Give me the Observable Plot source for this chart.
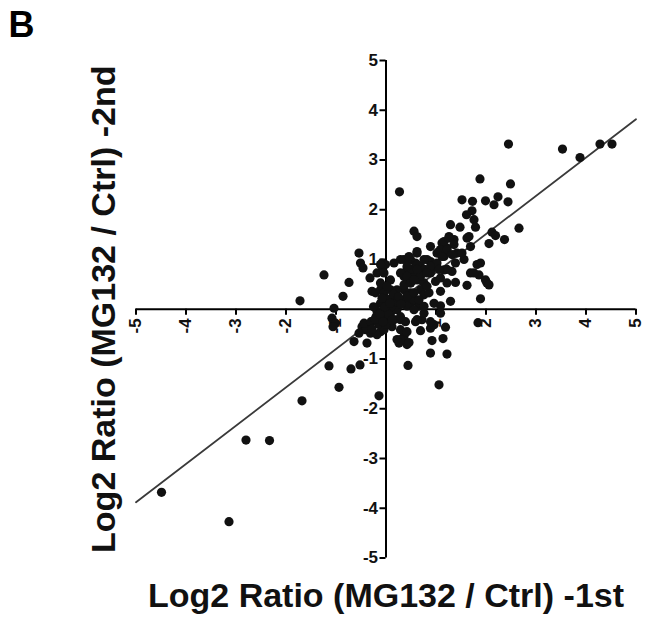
<!DOCTYPE html>
<html>
<head>
<meta charset="utf-8">
<script src="https://cdn.jsdelivr.net/npm/d3@7"></script>
<script src="https://cdn.jsdelivr.net/npm/@observablehq/plot@0.6"></script>
<style>
  html, body { margin: 0; padding: 0; background: #fff; }
  #chart svg { display: block; font-family: "Liberation Sans", Arial, sans-serif; }
</style>
</head>
<body>
<div id="chart"></div>
<script>
// Log2 ratio, 1st experiment (x) and 2nd experiment (y)
const ratio1st = [
  -4.49,-3.14,-2.80,-2.33,-1.68,-1.14,-0.94,-0.70,-0.52,-0.14,
  2.45,3.53,3.88,4.28,4.52,0.27,1.88,2.49,1.52,1.73,1.99,2.24,2.16,2.44,1.72,1.61,1.76,1.79,2.66,1.29,
  1.48,2.12,2.19,2.37,2.06,0.56,0.62,1.26,1.12,1.66,1.69,1.89,1.56,1.69,1.86,2.02,1.62,1.89,1.39,1.09,
  1.29,0.99,0.62,1.16,0.96,1.32,1.42,1.06,1.22,1.36,
  1.16,1.26,1.36,1.09,1.22,1.32,1.62,1.99,2.06,1.16,1.09,0.89,
  0.36,0.49,0.62,0.59,0.69,0.76,0.42,0.56,0.82,0.62,0.76,0.42,0.36,0.69,0.49,0.76,0.86,0.39,0.59,0.89,
  -0.54,-0.51,-0.46,-1.24,-0.74,-0.86,-0.32,-0.08,-0.01,0.46,-0.28,-0.21,-0.11,-1.04,-1.08,-1.01,
  -0.48,-0.41,-0.64,-0.54,-0.31,-0.11,-0.38,0.22,0.36,0.42,0.29,0.12,0.02,
  0.49,0.66,1.09,1.84,0.29,0.39,0.59,0.72,0.89,0.96,1.19,0.42,0.69,0.29,0.46,0.92,1.14,0.89,1.22,0.44,1.06,
  -1.72,-0.39,0.26,
  0.49,0.62,0.69,0.82,0.92,1.02,1.22,1.39,1.52,1.76,1.82,
  -0.11,-0.04,0.09,-0.11,0.02,0.16,-0.18,-0.04,0.09,0.22,0.16,0.29,-0.11,0.42,0.56,0.82,0.36,0.49,0.56,0.76,0.96,1.22,0.62,0.89,1.09,
  -1.06,-0.44,-0.18,-0.04,-0.18,-0.08,
  -0.11,0.16,0.29,-0.04,0.09,0.29,0.42,0.02,0.22,0.36,0.49,-0.04,0.16,0.42,0.56,0.66,0.76,-0.11,
  0.89,1.02,1.12,0.76,0.89,0.82,1.06,0.62,0.56,0.42,
  -0.30,-0.20,-0.10,0.00,0.10,0.20,-0.05,0.05,0.15,-0.15,0.05,0.25,0.30,-0.25,0.00,0.12,-0.08,
  -0.22,-0.12,-0.02,0.08,-0.28,-0.06
];
const ratio2nd = [
  -3.68,-4.27,-2.63,-2.64,-1.84,-1.14,-1.57,-1.20,-1.12,-1.74,
  3.32,3.22,3.05,3.32,3.32,2.36,2.62,2.52,2.20,2.17,2.18,2.26,2.10,2.16,1.98,1.90,1.80,1.65,1.63,1.70,
  1.65,1.55,1.48,1.40,1.32,1.57,1.46,1.46,1.33,1.46,1.26,0.93,1.00,0.73,0.69,0.53,0.48,0.21,0.54,0.36,
  0.16,0.56,1.13,1.06,0.86,0.76,1.13,1.16,1.23,1.40,
  1.36,1.43,1.30,1.20,1.20,1.10,1.43,0.59,0.49,0.79,0.63,0.96,
  1.00,1.00,1.16,0.93,0.86,0.80,0.80,0.73,0.76,0.59,0.53,0.53,0.66,0.39,0.33,0.29,0.33,0.16,0.16,0.73,
  1.13,0.93,0.83,0.69,0.54,0.26,0.63,0.93,0.90,1.06,0.36,0.33,0.39,0.02,-0.18,-0.28,
  -0.35,-0.41,-0.65,-0.48,-0.48,-0.45,-0.68,-0.61,-0.55,-0.71,-0.41,-0.35,-0.21,
  0.12,0.06,0.07,-0.27,-0.21,-0.25,-0.25,-0.21,-0.38,-0.31,-0.36,-0.45,-0.43,-0.61,-0.67,-0.63,-0.59,-0.88,-0.90,-1.13,-1.52,
  0.17,-0.38,-0.68,
  0.80,0.90,0.66,1.00,0.83,0.93,0.80,0.93,1.13,0.73,0.90,
  0.53,0.33,0.39,0.12,0.06,0.12,-0.04,-0.15,-0.08,-0.01,-0.21,-0.15,-0.21,0.06,0.19,0.46,0.39,0.53,-0.01,-0.08,0.12,0.53,-0.21,-0.25,-0.08,
  -0.35,-0.28,-0.51,-0.41,0.73,0.86,
  0.90,0.93,1.00,0.73,0.59,0.73,0.66,0.46,0.39,0.49,0.53,0.19,0.19,0.26,0.33,0.19,0.06,-0.08,
  1.26,1.13,1.06,1.00,0.86,0.73,0.80,0.80,0.59,0.86,
  -0.25,-0.15,-0.05,0.00,0.05,0.15,0.10,0.20,0.30,-0.30,-0.10,0.25,0.10,0.05,-0.30,-0.22,0.22,
  -0.20,-0.10,0.05,0.12,-0.40,-0.25
];
// fitted regression line end points
const fitX = [-5, 5];
const fitY = [-3.88, 3.82];
// axis ticks
const tickValues = [-5, -4, -3, -2, -1, 0, 1, 2, 3, 4, 5];
const tickLabels = ["-5", "-4", "-3", "-2", "-1", "", "1", "2", "3", "4", "5"];
const xTitle = "Log2 Ratio (MG132 / Ctrl) -1st";
const yTitle = "Log2 Ratio (MG132 / Ctrl) -2nd";
const panelLabel = "B";

const labelled = tickValues.map((v, i) => ({v, t: tickLabels[i]})).filter(d => d.t !== "");

const chart = Plot.plot({
  width: 656,
  height: 628,
  marginLeft: 135.5,
  marginRight: 20.5,
  marginTop: 60,
  marginBottom: 70.5,
  style: {background: "#fff", fontFamily: "'Liberation Sans', Arial, sans-serif"},
  x: {domain: [-5, 5], axis: null},
  y: {domain: [-5, 5], axis: null},
  marks: [
    // tick labels (drawn under the dots)
    Plot.text(labelled, {x: "v", y: 0, text: "t", rotate: -90, textAnchor: "end", dy: 9,
      fontSize: 17, fontWeight: "bold", fill: "#111"}),
    Plot.text(labelled, {x: 0, y: "v", text: "t", textAnchor: "end", dx: -8,
      fontSize: 17, fontWeight: "bold", fill: "#111"}),
    // axis lines through the origin
    Plot.ruleY([0], {x1: -5, x2: 5, stroke: "#000", strokeWidth: 2}),
    Plot.ruleX([0], {y1: -5, y2: 5, stroke: "#000", strokeWidth: 2}),
    // tick marks
    Plot.ruleX(tickValues, {x: d => d, y1: 0, y2: 0, insetBottom: -6, stroke: "#000", strokeWidth: 2}),
    Plot.ruleY(tickValues, {y: d => d, x1: 0, x2: 0, insetLeft: -6, stroke: "#000", strokeWidth: 2}),
    // regression line
    Plot.line(fitX.map((x, i) => ({x, y: fitY[i]})), {x: "x", y: "y", stroke: "#3a3a3a", strokeWidth: 1.8}),
    // data points
    Plot.dot({length: ratio1st.length}, {x: ratio1st, y: ratio2nd, r: 4.6, fill: "#111", stroke: "none"}),
    // titles
    Plot.text([xTitle], {frameAnchor: "bottom", lineAnchor: "middle", textAnchor: "middle", dy: 38.5,
      fontSize: 34, fontWeight: "bold", fill: "#111"}),
    Plot.text([yTitle], {frameAnchor: "left", lineAnchor: "middle", textAnchor: "middle", dx: -31.5, rotate: -90,
      fontSize: 34, fontWeight: "bold", fill: "#111"}),
    Plot.text([panelLabel], {frameAnchor: "top-left", lineAnchor: "middle", textAnchor: "start", dx: -127.5, dy: -35,
      fontSize: 36, fontWeight: "bold", fill: "#000"})
  ]
});
document.getElementById("chart").appendChild(chart);
</script>
</body>
</html>
